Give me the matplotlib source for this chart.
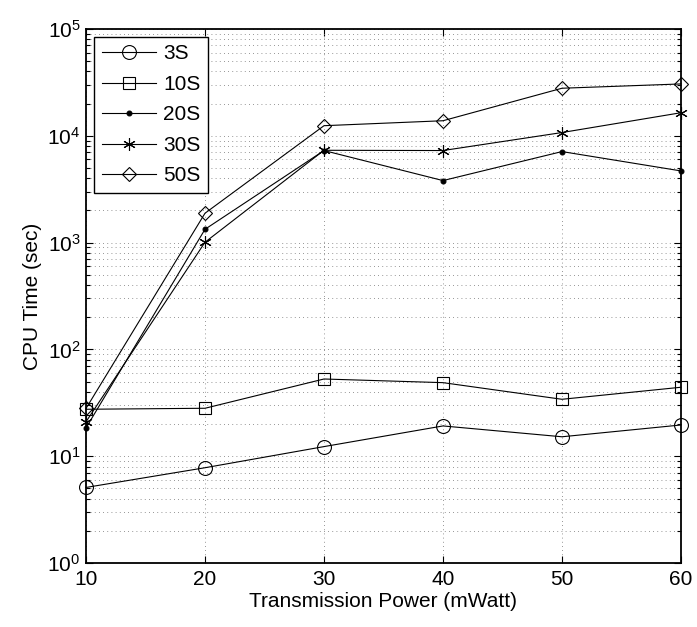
import numpy as np
import matplotlib
matplotlib.use("Agg")
import matplotlib.pyplot as plt
from matplotlib.ticker import LogLocator, NullFormatter

plt.rcParams['font.family'] = ['Liberation Sans', 'DejaVu Sans']
plt.rcParams['mathtext.default'] = 'regular'

# dados
potencia = [10, 20, 30, 40, 50, 60]
t_3s  = [5.1, 7.8, 12.3, 19.2, 15.2, 19.6]
t_10s = [27.5, 28.1, 52.8, 48.8, 34.1, 44.2]
t_20s = [18.4, 1330, 7260, 3800, 7100, 4680]
t_30s = [21.0, 1006, 7300, 7260, 10700, 16400]
t_50s = [28.0, 1880, 12400, 13800, 27800, 30500]

series = [
    ("3S",  t_3s,  dict(marker="o", markersize=10, markerfacecolor="none")),
    ("10S", t_10s, dict(marker="s", markersize=8, markerfacecolor="none")),
    ("20S", t_20s, dict(marker=".", markersize=7)),
    ("30S", t_30s, dict(marker=(6, 2, 0), markersize=9)),
    ("50S", t_50s, dict(marker="D", markersize=7.5, markerfacecolor="none")),
]

fig = plt.figure(figsize=(6.97, 6.27), dpi=100)
ax = fig.add_axes([0.1234, 0.102, 0.8536, 0.852])

for nome, vals, estilo in series:
    ax.plot(potencia, vals, color="black", linewidth=0.8,
            markeredgecolor="black", markeredgewidth=0.8, label=nome,
            clip_on=False, **estilo)

ax.set_yscale("log")
ax.set_xlim(10, 60)
ax.set_ylim(1, 1e5)
ax.set_xticks(potencia)
ax.yaxis.set_major_locator(LogLocator(base=10, numticks=10))
ax.yaxis.set_minor_locator(LogLocator(base=10, subs=np.arange(2, 10), numticks=10))
ax.yaxis.set_minor_formatter(NullFormatter())

grade = dict(linestyle=(0, (1, 4)), color="0.45", linewidth=0.6)
ax.grid(True, which="major", axis="both", **grade)
ax.grid(True, which="minor", axis="y", **grade)
ax.tick_params(which="both", direction="in", top=True, right=True, labelsize=15)
ax.tick_params(which="major", length=5, width=0.8)
ax.tick_params(which="minor", length=3, width=0.8)
ax.tick_params(axis="x", pad=5)
ax.tick_params(axis="y", pad=4)
for s in ax.spines.values():
    s.set_linewidth(1.3)

ax.set_xlabel("Transmission Power (mWatt)", fontsize=15, labelpad=2)
ax.set_ylabel("CPU Time (sec)", fontsize=15, labelpad=4)

leg = ax.legend(loc="upper left", fontsize=15, frameon=True, fancybox=False,
                edgecolor="black", framealpha=1, borderaxespad=0.4,
                handlelength=2.6, labelspacing=0.55, borderpad=0.35, handletextpad=0.35)
leg.get_frame().set_linewidth(1.0)

fig.savefig("out.png", dpi=100)
